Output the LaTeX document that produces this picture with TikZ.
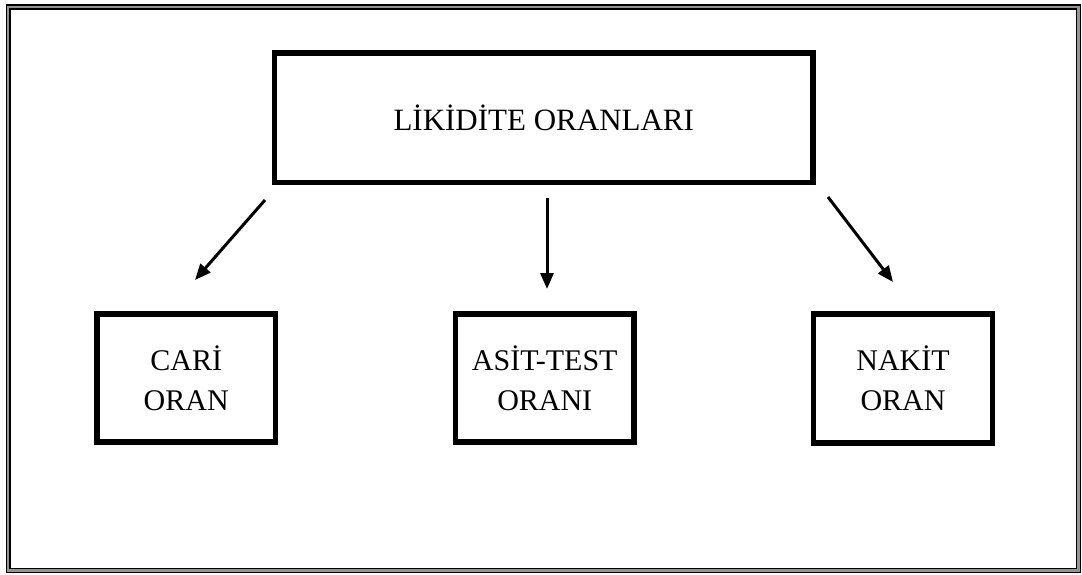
\documentclass[tikz,border=0pt]{standalone}
\usepackage{fontspec}
\setmainfont{Liberation Serif}
\usetikzlibrary{arrows.meta}

\tikzset{
  box/.style={draw=black, line width=5.5pt, fill=white, align=center,
    inner sep=0pt, font=\fontsize{30}{40}\selectfont},
  link/.style={draw=black, line width=3pt,
    -{Triangle[length=16pt, width=13pt]}}
}

\begin{document}
\begin{tikzpicture}[x=1pt, y=-1pt]
  \useasboundingbox (0,0) rectangle (1082,574);

  % double page frame: grey band between two black rules
  \draw[line width=3.4pt, color=black!42] (8.3,6.9) rectangle (1078.3,570.3);
  \draw[line width=1.5pt] (6.6,4.8) rectangle (1080.3,572.4);
  \draw[line width=1.6pt] (10.1,9.0) rectangle (1076.4,568.3);

  % boxes
  \node[box, minimum width=538.5pt, minimum height=129.5pt,
    font=\fontsize{31}{40}\selectfont]
    (top) at (543.75,117.75) {LİKİDİTE ORANLARI};
  \node[box, minimum width=178.5pt, minimum height=128pt]
    (cari) at (186.25,378) {CARİ\\ORAN};
  \node[box, minimum width=178.5pt, minimum height=128pt]
    (asit) at (544.75,378) {ASİT-TEST\\ORANI};
  \node[box, minimum width=179pt, minimum height=129pt]
    (nakit) at (903,378.5) {NAKİT\\ORAN};

  % arrow ends
  \coordinate (l1) at (265,200);
  \coordinate (l2) at (195,280);
  \coordinate (m1) at (547,198);
  \coordinate (m2) at (547,289);
  \coordinate (r1) at (828,197);
  \coordinate (r2) at (893,282);

  \draw[link] (l1) -- (l2);
  \draw[link] (m1) -- (m2);
  \draw[link] (r1) -- (r2);
\end{tikzpicture}
\end{document}
